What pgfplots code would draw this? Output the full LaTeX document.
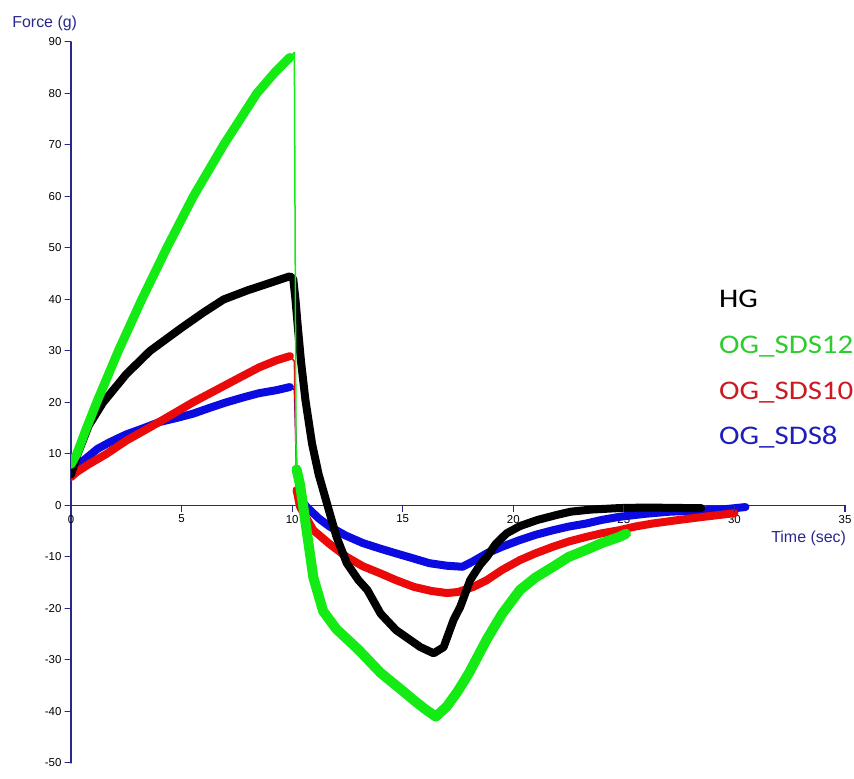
\documentclass[border=0pt]{standalone}
\usepackage{fontspec}
\setmainfont{Liberation Sans}
\newfontfamily\legendfont{Carlito}
\usepackage{graphicx}
\usepackage{pgfplots}
\pgfplotsset{compat=1.18}
\definecolor{axisnavy}{RGB}{40,40,140}
\definecolor{cgreen}{RGB}{20,235,20}
\definecolor{cred}{RGB}{235,10,10}
\definecolor{cblue}{RGB}{10,10,225}
\definecolor{lgreen}{RGB}{45,205,45}
\definecolor{lred}{RGB}{205,25,35}
\definecolor{lblue}{RGB}{30,30,185}
\newcommand{\lgt}[2]{\textcolor{#1}{\scalebox{1.15}[1]{#2}}}
\begin{document}
\begin{tikzpicture}[x=1bp,y=1bp]
\begin{axis}[
  at={(71bp,16bp)}, anchor=south west,
  scale only axis, width=774bp, height=721bp,
  xmin=0, xmax=35, ymin=-50, ymax=90,
  axis x line*=middle, axis y line*=left,
  axis line style={axisnavy, line width=1.2bp},
  xtick={0,5,...,35}, ytick={-50,-40,...,90},
  hide obscured x ticks=false, hide obscured y ticks=false,
  tick align=outside, major tick length=6bp,
  ytick pos=left,
  tick style={axisnavy, line width=1bp},
  ticklabel style={font=\fontsize{11.5}{11.5}\selectfont},
  /pgf/number format/assume math mode=true,
  xlabel={Time (sec)}, ylabel={Force (g)},
  every axis x label/.style={at={(axis description cs:0.953,0.312)}, anchor=center, font=\fontsize{16}{16}\selectfont, text=axisnavy},
  every axis y label/.style={at={(axis description cs:-0.034,1.026)}, anchor=center, font=\fontsize{16}{16}\selectfont, text=axisnavy},
  legend style={at={(axis cs:29.3,42.3)}, anchor=north west, draw=none, fill=none,
    font=\legendfont\fontsize{27}{27}\selectfont, row sep=19.7bp, inner sep=0pt,
    nodes={inner sep=0pt, text height=20bp, text depth=6bp}},
  legend cell align=left,
  legend image code/.code={},
  line join=round, line cap=round,
  after end axis/.code={
    \foreach \t in {0,5,10,15,20,25,30,35} {
      \draw[axisnavy, line width=1.2bp, line cap=butt] (axis cs:\t,0) -- ++(0bp,-6.5bp);
    }
  },
]
\addlegendimage{black}\addlegendentry{\lgt{black}{HG}}
\addlegendimage{cgreen}\addlegendentry{\lgt{lgreen}{OG\_SDS12}}
\addlegendimage{cred}\addlegendentry{\lgt{lred}{OG\_SDS10}}
\addlegendimage{cblue}\addlegendentry{\lgt{lblue}{OG\_SDS8}}
% OG_SDS8 (blue)
\addplot[forget plot, cblue, line width=8bp] coordinates {(0,6.5)(0.5,8.5)(1.2,11)(1.76,12.3)(2.5,13.8)(3.27,15)(4,16.2)(4.78,17)(5.5,17.8)(6.3,19)(7,20)(7.8,21)(8.5,21.8)(9.3,22.4)(9.9,23)};
\addplot[forget plot, cblue, line width=1.5bp] coordinates {(9.9,23)(10.1,22.5)(10.25,2)};
\addplot[forget plot, cblue, line width=8bp] coordinates {(10.3,1.5)(10.66,-0.3)(11.2,-2.5)(11.7,-4.1)(12.4,-5.8)(13.2,-7.3)(14,-8.4)(14.7,-9.3)(15.5,-10.3)(16.2,-11.2)(17,-11.7)(17.7,-11.9)(18.2,-10.8)(18.8,-9.3)(19.5,-8)(20.3,-6.7)(21,-5.7)(21.8,-4.8)(22.5,-4.1)(23.3,-3.5)(24,-2.8)(24.8,-2.2)(26,-1.6)(27.1,-1.2)(28.3,-1)(29.4,-0.8)(30.5,-0.3)};
% OG_SDS10 (red)
\addplot[forget plot, cred, line width=8bp] coordinates {(0,5.5)(0.26,6.5)(0.8,8)(1.6,10)(2.5,12.6)(3.5,15)(4.5,17.5)(5.5,20)(6.6,22.5)(7.7,25)(8.5,26.8)(9.3,28.2)(9.9,29)};
\addplot[forget plot, cred, line width=1.5bp] coordinates {(9.9,29)(10.1,28)(10.2,3)};
\addplot[forget plot, cred, line width=8bp] coordinates {(10.2,3)(10.36,-0.3)(10.96,-4.8)(11.7,-7.5)(12.47,-10)(13.2,-11.8)(14,-13.2)(14.7,-14.5)(15.5,-15.8)(16.3,-16.6)(17,-17)(17.5,-16.8)(18.2,-15.8)(18.8,-14.5)(19.5,-12.5)(20.3,-10.6)(21,-9.3)(21.8,-8)(22.5,-7)(23.3,-6.1)(24,-5.4)(24.8,-4.8)(25.5,-4.1)(26.3,-3.5)(27.5,-2.8)(28.6,-2.2)(30,-1.5)};
% HG (black)
\addplot[forget plot, black, line width=8bp] coordinates {(0,6)(0.3,10)(0.8,15.5)(1.45,20)(2.5,25.5)(3.57,30)(5,34.5)(6,37.5)(6.9,40)(8,41.8)(8.5,42.5)(9.2,43.5)(9.9,44.5)(10.05,44)(10.15,40)(10.25,35)(10.4,28)(10.6,20.5)(10.9,12)(11.2,6)(11.6,0)(12,-6)(12.47,-11.2)(13,-14.5)(13.4,-16.4)(14,-21)(14.7,-24.2)(15.3,-26)(15.8,-27.5)(16.4,-28.7)(16.85,-27.5)(17.3,-22.2)(17.6,-19.7)(18.05,-14.5)(18.5,-11.5)(18.8,-10)(19.2,-7.5)(19.7,-5.4)(20.3,-4)(21.1,-2.8)(22,-1.8)(22.6,-1.2)(23.5,-0.8)(24.8,-0.5)(26,-0.4)(27.9,-0.5)(28.5,-0.5)};
% OG_SDS12 (green)
\addplot[forget plot, cgreen, line width=9bp] coordinates {(0,8)(0.26,10)(0.7,15)(1.16,20)(2.14,30)(3.2,40)(4.33,50)(5.53,60)(6.9,70)(8.4,80)(9.2,84)(9.9,87)};
\addplot[forget plot, cgreen, line width=1.5bp] coordinates {(9.9,87)(10.1,88)(10.18,6)};
\addplot[forget plot, cgreen, line width=10bp] coordinates {(10.2,7)(10.36,4)(10.66,-5)(10.96,-14)(11.4,-20.5)(12,-24)(12.5,-26)(13,-28)(14,-32.5)(15,-36)(15.5,-37.8)(16,-39.5)(16.5,-41)(17,-39)(17.5,-36)(18,-32.5)(18.8,-26)(19.5,-21)(20.3,-16.4)(21,-14)(21.8,-11.9)(22.5,-10)(23.3,-8.6)(24,-7.3)(24.8,-6.1)(25.1,-5.5)};
\end{axis}
\pgfresetboundingbox
\path[use as bounding box] (0,0) rectangle (854,779);
\end{tikzpicture}
\end{document}
